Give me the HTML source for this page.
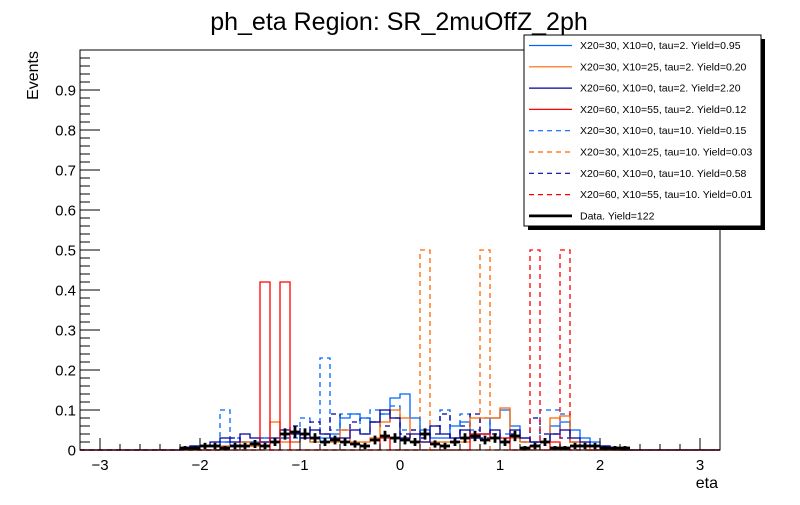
<!DOCTYPE html>
<html><head><meta charset="utf-8"><style>
body{margin:0;background:#fff;}
svg{font-family:"Liberation Sans",sans-serif;}
</style></head><body>
<svg id="c" width="800" height="500" viewBox="0 0 800 500" xmlns="http://www.w3.org/2000/svg">
<rect width="800" height="500" fill="#fff"/>
<text x="399" y="30" text-anchor="middle" font-size="25">ph_eta Region: SR_2muOffZ_2ph</text>
<text x="0" y="0" transform="translate(38,51) rotate(-90)" text-anchor="end" font-size="16">Events</text>
<text x="718" y="488" text-anchor="end" font-size="16">eta</text>
<g id="plot"></g>
<g id="axes"></g>
<g id="legend"></g>
</svg>
<script>
// bins of width 0.1; values listed for eta -2.2 .. 2.2 (index 0 => -2.2)
const binStart = -2.2, binWidth = 0.1;
const xTicks = [-3,-2,-1,0,1,2,3];
const yTicks = [0,0.1,0.2,0.3,0.4,0.5,0.6,0.7,0.8,0.9];
const yTickLabels = ["0","0.1","0.2","0.3","0.4","0.5","0.6","0.7","0.8","0.9"];
const sigBlue   = [0.005,0.01,0.01,0.01,0.02,0.01,0.02,0.02,0.03,0.02,0.03,0.02,0.03,0.02,0.03,0.04,0.08,0.09,0.08,0.07,0.09,0.13,0.14,0.08,0.05,0.03,0.03,0.06,0.07,0.03,0.04,0.08,0.10,0.06,0.03,0.02,0.02,0.06,0.07,0.05,0.03,0.02,0.01,0.005,0];
const sigOrange = [0,0,0,0,0.01,0.01,0.02,0.01,0.02,0.07,0.02,0.02,0.03,0.02,0.02,0.02,0.05,0.02,0.02,0.03,0.07,0.10,0.08,0.02,0.02,0.02,0.02,0.02,0.02,0.08,0.08,0.08,0.105,0.03,0.02,0.02,0.02,0.08,0.085,0.02,0.01,0,0,0,0];
const sigNavy   = [0.005,0.01,0.01,0.02,0.03,0.02,0.04,0.03,0.02,0.03,0.05,0.04,0.03,0.05,0.04,0.03,0.03,0.05,0.04,0.07,0.10,0.08,0.03,0.04,0.02,0.06,0.04,0.03,0.05,0.03,0.04,0.05,0.02,0.05,0.03,0.02,0.02,0.04,0.05,0.03,0.02,0.01,0.01,0.005,0];
const sigRed    = [0,0,0,0,0,0,0,0,0.42,0,0.42,0,0,0,0,0,0,0,0,0,0.03,0,0,0,0,0,0,0,0,0.04,0.04,0.03,0.03,0,0,0,0,0.02,0,0,0,0,0,0,0];
const dBlue     = [0,0,0,0,0.10,0.03,0.02,0.02,0.03,0.02,0.03,0.03,0.08,0.02,0.23,0.05,0.09,0.09,0.04,0.10,0.09,0.11,0.05,0.05,0.03,0.06,0.10,0.03,0.09,0.05,0.08,0.03,0.04,0.03,0.02,0.02,0.10,0.10,0.09,0.02,0.01,0,0,0,0];
const dOrange   = [0,0,0,0,0,0,0,0,0,0,0,0,0,0,0,0,0,0,0,0,0,0,0,0,0.5,0,0,0,0,0,0.5,0,0,0,0,0,0,0,0,0,0,0,0,0,0];
const dNavy     = [0,0,0,0,0.02,0.03,0.01,0.01,0.03,0.02,0.03,0.06,0.04,0.07,0.04,0.09,0.05,0.07,0.08,0.07,0.06,0.08,0.04,0.05,0.03,0.04,0.09,0.03,0.06,0.09,0.03,0.04,0.03,0.04,0.02,0.08,0.04,0.04,0.03,0.02,0.01,0,0,0,0];
const dRed      = [0,0,0,0,0,0,0,0,0,0,0,0,0,0,0,0,0,0,0,0,0,0,0,0,0,0,0,0,0,0,0,0,0,0,0,0.5,0,0,0.5,0,0,0,0,0,0];
const dataVals  = [0.005,0.005,0.01,0.01,0.005,0.01,0.01,0.015,0.01,0.02,0.04,0.045,0.04,0.03,0.02,0.025,0.02,0.015,0.01,0.025,0.035,0.03,0.025,0.02,0.04,0.015,0.01,0.02,0.03,0.035,0.025,0.03,0.02,0.035,0.005,0.01,0.02,0.005,0.005,0.01,0.01,0.01,0.005,0.005,0.005];
const dataErr   = [0.005,0.005,0.008,0.008,0.005,0.008,0.008,0.01,0.008,0.01,0.014,0.015,0.014,0.012,0.01,0.011,0.01,0.009,0.008,0.011,0.013,0.012,0.011,0.01,0.014,0.009,0.008,0.01,0.012,0.013,0.011,0.012,0.01,0.013,0.005,0.008,0.01,0.005,0.005,0.008,0.008,0.008,0.005,0.005,0.005];

const NS="http://www.w3.org/2000/svg";
const X0=100,X1=700,Y0=450,YT=50,FL=80,FR=720;
const xs=v=>X0+(v+3)/6*(X1-X0);
const ys=v=>Y0-v*(Y0-YT);
function mk(tag,attrs,parent){const e=document.createElementNS(NS,tag);for(const k in attrs)e.setAttribute(k,attrs[k]);parent.appendChild(e);return e;}
const plot=document.getElementById('plot'),axes=document.getElementById('axes'),leg=document.getElementById('legend');

function histPath(vals){
  let d=`M${FL},${ys(0)} L${xs(binStart)},${ys(0)}`;
  vals.forEach((v,i)=>{const a=xs(binStart+i*binWidth),b=xs(binStart+(i+1)*binWidth);d+=` L${a},${ys(v)} L${b},${ys(v)}`;});
  d+=` L${xs(binStart+vals.length*binWidth)},${ys(0)} L${FR},${ys(0)}`;
  return d;
}
const series=[
 {v:dBlue,c:"#0066ff",dash:"5,4",name:"hist-x20-30-x10-0-tau10"},
 {v:dOrange,c:"#ff6600",dash:"5,4",name:"hist-x20-30-x10-25-tau10"},
 {v:dNavy,c:"#000099",dash:"5,4",name:"hist-x20-60-x10-0-tau10"},
 {v:dRed,c:"#ff0000",dash:"5,4",name:"hist-x20-60-x10-55-tau10"},
 {v:sigBlue,c:"#0066ff",dash:"",name:"hist-x20-30-x10-0-tau2"},
 {v:sigOrange,c:"#ff6600",dash:"",name:"hist-x20-30-x10-25-tau2"},
 {v:sigNavy,c:"#000099",dash:"",name:"hist-x20-60-x10-0-tau2"},
 {v:sigRed,c:"#ff0000",dash:"",name:"hist-x20-60-x10-55-tau2"}];
series.forEach(s=>{
  const p=mk('path',{d:histPath(s.v),fill:"none",stroke:s.c,"stroke-width":1.3},plot);
  if(s.dash)p.setAttribute('stroke-dasharray',s.dash);
  
  
});
dataVals.forEach((v,i)=>{
  if(v<=0)return;
  const cx=xs(binStart+(i+0.5)*binWidth),cy=ys(v);
  const g=mk('g',{stroke:"#000","stroke-width":2.8},plot);
  
  
  mk('line',{x1:xs(binStart+i*binWidth),x2:xs(binStart+(i+1)*binWidth),y1:cy,y2:cy},g);
  mk('line',{x1:cx,x2:cx,y1:ys(Math.max(0,v-dataErr[i])),y2:ys(v+dataErr[i])},g);
});

const fr=mk('rect',{x:FL,y:YT,width:FR-FL,height:Y0-YT,fill:"none",stroke:"#000","stroke-width":1},axes);

for(let k=-30;k<=30;k+=2){const v=k/10,x=xs(v),maj=(k%10===0);
  mk('line',{x1:x,x2:x,y1:Y0,y2:Y0-(maj?12:6),stroke:"#000","stroke-width":1},axes);}
xTicks.forEach(v=>{const t=mk('text',{x:xs(v),y:Y0+20,"text-anchor":"middle","font-size":15},axes);t.textContent=v===0?"0":(v<0?"\u2212"+(-v):String(v));
  });
for(let k=0;k<=50;k++){const v=k/50,y=ys(v),maj=(k%5===0);
  mk('line',{x1:FL,x2:FL+(maj?20:10),y1:y,y2:y,stroke:"#000","stroke-width":1},axes);}
yTicks.forEach((v,i)=>{const t=mk('text',{x:FL-4,y:ys(v)+5.5,"text-anchor":"end","font-size":15},axes);t.textContent=yTickLabels[i];
  });

mk('rect',{x:528,y:39,width:237,height:191,fill:"#000"},leg);
mk('rect',{x:524,y:35,width:237,height:191,fill:"#fff",stroke:"#000","stroke-width":1},leg);
const legItems=[
 ["X20=30, X10=0, tau=2. Yield=0.95","#0066ff",""],
 ["X20=30, X10=25, tau=2. Yield=0.20","#ff6600",""],
 ["X20=60, X10=0, tau=2. Yield=2.20","#000099",""],
 ["X20=60, X10=55, tau=2. Yield=0.12","#ff0000",""],
 ["X20=30, X10=0, tau=10. Yield=0.15","#0066ff","5,4"],
 ["X20=30, X10=25, tau=10. Yield=0.03","#ff6600","5,4"],
 ["X20=60, X10=0, tau=10. Yield=0.58","#000099","5,4"],
 ["X20=60, X10=55, tau=10. Yield=0.01","#ff0000","5,4"],
 ["Data. Yield=122","#000",""]];
legItems.forEach((it,i)=>{const y=45.5+i*21.3;
  const g=mk('g',{},leg);
  
  const l=mk('line',{x1:529,x2:572,y1:y,y2:y,stroke:it[1],"stroke-width":i===8?2.8:1.2},g);
  if(it[2])l.setAttribute('stroke-dasharray',it[2]);
  const t=mk('text',{x:580,y:y+3.5,"font-size":10.5},g);t.textContent=it[0];
});
</script>
</body></html>
